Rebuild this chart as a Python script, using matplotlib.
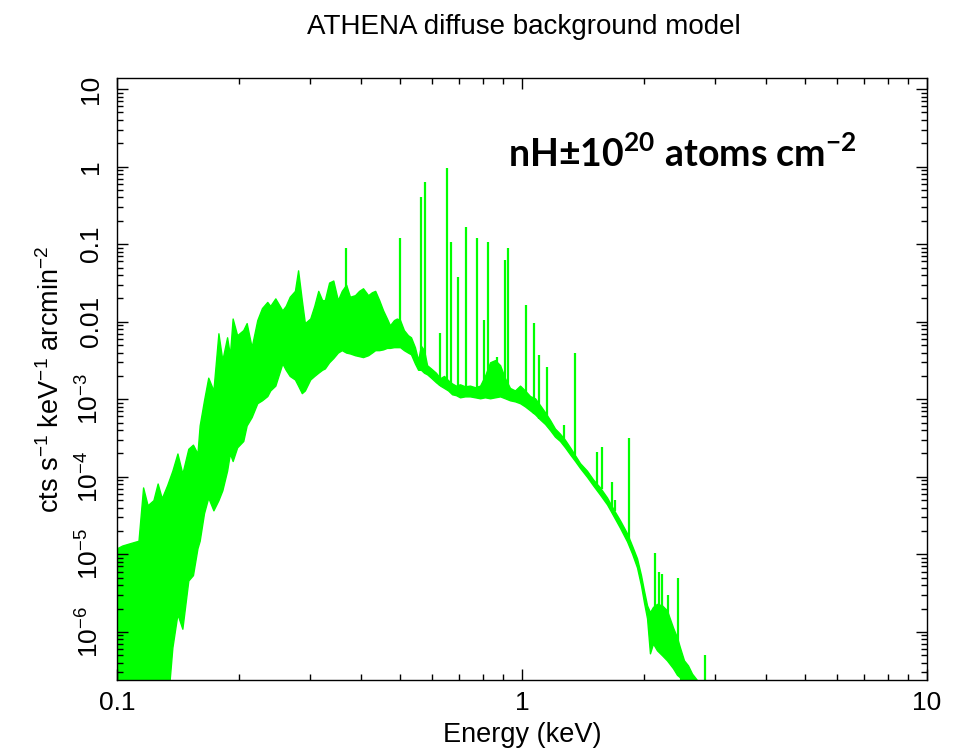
import numpy as np
import matplotlib
matplotlib.use("Agg")
import matplotlib.pyplot as plt

plt.rcParams['font.family'] = ['Liberation Sans', 'DejaVu Sans']
plt.rcParams['mathtext.fontset'] = 'custom'
plt.rcParams['mathtext.rm'] = 'Liberation Sans'
plt.rcParams['mathtext.it'] = 'Liberation Sans:italic'
plt.rcParams['mathtext.bf'] = 'Lato:bold'

# continuum band of the model: energy (keV), upper and lower edge (cts/s/keV/arcmin2)
energy = [0.100, 0.103, 0.108, 0.113, 0.116, 0.119, 0.123, 0.126, 0.129, 0.133,
          0.137, 0.141, 0.145, 0.150, 0.154, 0.158, 0.160, 0.164, 0.168, 0.173,
          0.178, 0.182, 0.187, 0.190, 0.193, 0.198, 0.205, 0.209, 0.215, 0.222,
          0.228, 0.235, 0.239, 0.246, 0.256, 0.261, 0.267, 0.275, 0.280, 0.286,
          0.291, 0.300, 0.307, 0.314, 0.321, 0.326, 0.334, 0.342, 0.351, 0.359,
          0.368, 0.376, 0.387, 0.396, 0.405, 0.417, 0.426, 0.434, 0.444, 0.454,
          0.464, 0.472, 0.483, 0.491, 0.500, 0.511, 0.523, 0.532, 0.544, 0.554,
          0.563, 0.573, 0.583, 0.596, 0.613, 0.628, 0.642, 0.657, 0.672, 0.687,
          0.703, 0.723, 0.744, 0.766, 0.788, 0.810, 0.834, 0.858, 0.883, 0.908,
          0.934, 0.961, 0.989, 1.017, 1.047, 1.077, 1.108, 1.140, 1.173, 1.206,
          1.241, 1.277, 1.314, 1.352, 1.391, 1.447, 1.497, 1.558, 1.622, 1.678,
          1.746, 1.817, 1.869, 1.923, 1.967, 2.001, 2.036, 2.070, 2.106, 2.154,
          2.217, 2.280, 2.360, 2.414, 2.455, 2.512, 2.570, 2.629, 2.704]
band_hi = [1.2e-5, 1.3e-5, 1.4e-5, 1.5e-5, 7.3e-5, 4.3e-5, 5.0e-5, 8.2e-5, 5.3e-5, 7.8e-5,
           1.2e-4, 2.0e-4, 1.1e-4, 2.3e-4, 2.6e-4, 2.0e-4, 4.6e-4, 9.7e-4, 1.9e-3, 1.3e-3,
           7.1e-3, 3.2e-3, 6.3e-3, 3.7e-3, 1.1e-2, 6.7e-3, 7.8e-3, 9.6e-3, 4.7e-3, 1.05e-2,
           1.5e-2, 1.8e-2, 1.6e-2, 2.0e-2, 1.4e-2, 1.6e-2, 2.1e-2, 2.5e-2, 4.6e-2, 1.9e-2,
           9.6e-3, 1.1e-2, 1.6e-2, 2.5e-2, 1.9e-2, 1.9e-2, 3.2e-2, 3.4e-2, 1.9e-2, 2.5e-2,
           3.0e-2, 2.1e-2, 2.2e-2, 2.5e-2, 2.7e-2, 2.2e-2, 2.4e-2, 2.5e-2, 1.9e-2, 1.4e-2,
           1.1e-2, 9.0e-3, 1.05e-2, 1.1e-2, 1.05e-2, 7.8e-3, 6.7e-3, 6.3e-3, 4.7e-3, 3.2e-3,
           4.9e-3, 4.3e-3, 2.75e-3, 2.5e-3, 2.2e-3, 1.87e-3, 2.0e-3, 1.76e-3, 1.6e-3, 1.5e-3,
           1.56e-3, 1.47e-3, 1.5e-3, 1.43e-3, 1.5e-3, 2.0e-3, 3.0e-3, 3.2e-3, 2.75e-3, 1.87e-3,
           1.4e-3, 1.3e-3, 1.5e-3, 1.3e-3, 1.1e-3, 1.03e-3, 8.4e-4, 6.8e-4, 5.4e-4, 4.2e-4,
           3.6e-4, 3.0e-4, 2.4e-4, 1.9e-4, 1.5e-4, 1.2e-4, 9.3e-5, 7.3e-5, 5.4e-5, 3.9e-5,
           2.75e-5, 1.87e-5, 1.3e-5, 8.9e-6, 5.4e-6, 3.4e-6, 2.2e-6, 1.8e-6, 2.1e-6, 2.3e-6,
           2.2e-6, 1.9e-6, 1.14e-6, 8.5e-7, 6.3e-7, 4.3e-7, 3.7e-7, 2.9e-7, 2.4e-7]
band_lo = [1e-7, 1e-7, 1e-7, 1e-7, 1e-7, 1e-7, 1e-7, 1e-7, 1e-7, 1e-7,
           6.3e-7, 1.7e-6, 1.1e-6, 4.6e-6, 5.4e-6, 1.2e-5, 1.5e-5, 3.4e-5, 5.4e-5, 3.7e-5,
           5.0e-5, 6.7e-5, 1.2e-4, 2.0e-4, 1.6e-4, 2.4e-4, 2.9e-4, 4.6e-4, 5.9e-4, 8.9e-4,
           9.7e-4, 1.1e-3, 1.3e-3, 1.5e-3, 2.9e-3, 2.4e-3, 2.0e-3, 1.8e-3, 1.5e-3, 1.2e-3,
           1.3e-3, 1.8e-3, 2.0e-3, 2.2e-3, 2.4e-3, 2.5e-3, 3.0e-3, 3.4e-3, 4.0e-3, 4.3e-3,
           4.0e-3, 3.9e-3, 3.7e-3, 3.6e-3, 3.5e-3, 3.7e-3, 4.0e-3, 4.3e-3, 4.3e-3, 4.4e-3,
           4.6e-3, 4.6e-3, 4.7e-3, 4.7e-3, 4.7e-3, 4.3e-3, 4.0e-3, 3.8e-3, 2.9e-3, 2.4e-3,
           2.4e-3, 2.2e-3, 2.1e-3, 1.9e-3, 1.66e-3, 1.5e-3, 1.4e-3, 1.3e-3, 1.16e-3, 1.13e-3,
           1.06e-3, 1.09e-3, 1.09e-3, 1.06e-3, 1.03e-3, 1.06e-3, 1.03e-3, 1.06e-3, 1.09e-3, 1.03e-3,
           9.7e-4, 9.4e-4, 8.9e-4, 8.1e-4, 7.2e-4, 6.4e-4, 5.5e-4, 4.8e-4, 4.0e-4, 3.3e-4,
           2.9e-4, 2.4e-4, 1.95e-4, 1.6e-4, 1.3e-4, 1.0e-4, 7.8e-5, 5.9e-5, 4.4e-5, 3.2e-5,
           2.2e-5, 1.47e-5, 1.03e-5, 6.8e-6, 4.0e-6, 2.4e-6, 1.5e-6, 5.3e-7, 7.1e-7, 5.8e-7,
           5.0e-7, 4.3e-7, 3.4e-7, 2.8e-7, 2.6e-7, 1e-7, 1e-7, 1e-7, 1e-7]

# emission lines: energy, peak, continuum under the line
line_e = [0.368, 0.500, 0.563, 0.575, 0.628, 0.653, 0.668, 0.695, 0.727, 0.774,
          0.806, 0.824, 0.868, 0.908, 0.923, 1.023, 1.071, 1.101, 1.153, 1.270,
          1.352, 1.532, 1.576, 1.668, 1.697, 1.838, 2.130, 2.179, 2.22, 2.294,
          2.428, 2.831]
line_top = [8.9e-2, 0.12, 0.40, 0.63, 7.1e-3, 0.95, 0.106, 3.75e-2, 0.166, 0.12,
            1.05e-2, 0.106, 3.5e-3, 6.2e-2, 8.9e-2, 1.63e-2, 9.6e-3, 3.7e-3, 2.6e-3, 4.6e-4,
            4.0e-3, 2.07e-4, 2.4e-4, 8.5e-5, 5.0e-5, 3.14e-4, 1.03e-5, 5.9e-6, 5.6e-6, 3.0e-6,
            4.9e-6, 5.0e-7]
line_base = [4.0e-3, 4.7e-3, 2.4e-3, 2.2e-3, 1.5e-3, 1.4e-3, 1.3e-3, 1.1e-3, 1.1e-3, 1.06e-3,
             1.05e-3, 1.05e-3, 1.05e-3, 1.03e-3, 1.0e-3, 8.1e-4, 6.4e-4, 5.5e-4, 4.8e-4, 2.6e-4,
             1.9e-4, 8.0e-5, 7.0e-5, 4.0e-5, 3.6e-5, 1.6e-5, 2.0e-6, 2.0e-6, 2.0e-6, 1.5e-6,
             4.0e-7, 1e-7]

ytick_vals = [1e1, 1, 0.1, 0.01, 1e-3, 1e-4, 1e-5, 1e-6]
ytick_txt = ['10', '1', '0.1', '0.01', '10$^{-3}$', '10$^{-4}$', '10$^{-5}$', '10$^{-6}$']
xtick_vals = [0.1, 1, 10]
xtick_txt = ['0.1', '1', '10']

verde = '#00ff00'

fig = plt.figure(figsize=(9.63, 7.48), dpi=100)
ax = fig.add_axes([117/963, 1-680/748, 810/963, 602/748])

ax.fill_between(energy, band_lo, band_hi, color=verde, lw=1.0, edgecolor=verde)
ax.vlines(line_e, line_base, line_top, color=verde, lw=1.6)

ax.set_xscale('log')
ax.set_yscale('log')
ax.set_xlim(0.1, 10)
ax.set_ylim(2.4e-7, 13.9)

ax.set_xticks(xtick_vals)
ax.set_xticklabels(xtick_txt)
ax.set_yticks(ytick_vals)
ax.set_yticklabels(ytick_txt, rotation=90, va='center')

# ejes estilo pgplot: ticks hacia adentro en los cuatro lados
ax.tick_params(which='both', direction='in', top=True, right=True, width=1.0, labelsize=19)
ax.tick_params(which='major', length=8)
ax.tick_params(which='minor', length=4)
ax.tick_params(axis='x', pad=8)
ax.tick_params(axis='y', pad=10)
for s in ax.spines.values():
    s.set_linewidth(1.0)

ax.set_xlabel('Energy (keV)', fontsize=19.5, labelpad=5)
ax.set_ylabel('cts s$^{-1}$ keV$^{-1}$ arcmin$^{-2}$', fontsize=19.5, labelpad=8)

fig.text(524/963, 1-27/748, 'ATHENA diffuse background model', fontsize=20,
         ha='center', va='center')
fig.text(508/963, 1-167/748, r'nH±10$^{\mathbf{20}}$ atoms cm$^{\mathbf{-2}}$',
         fontsize=27, fontweight='bold', family=['Lato', 'DejaVu Sans'],
         ha='left', va='baseline')

fig.savefig('out.png', dpi=100)
